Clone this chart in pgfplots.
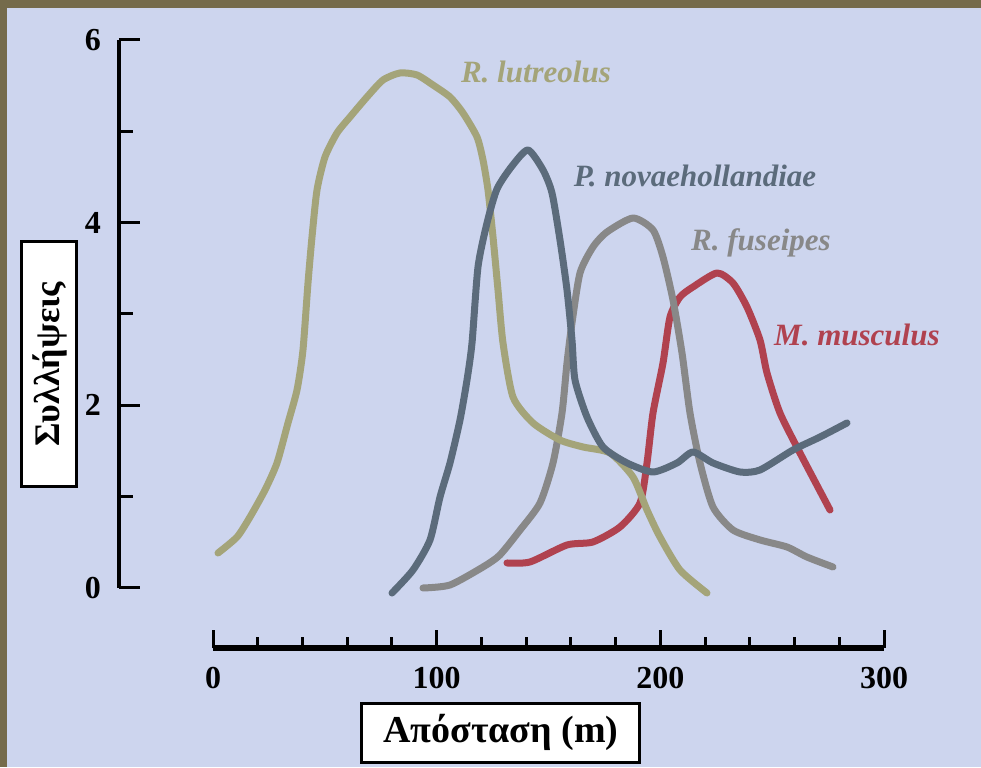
\documentclass[border=0pt]{standalone}
\usepackage{pgfplots}
\pgfplotsset{compat=1.18}
\usepackage{fontspec}
\setmainfont{Liberation Serif}
\definecolor{brownb}{HTML}{756B4B}
\definecolor{bgc}{HTML}{CDD5EE}
\definecolor{khaki}{HTML}{A4A479}
\definecolor{slate}{HTML}{5B6B7B}
\definecolor{grayc}{HTML}{888888}
\definecolor{redc}{HTML}{B0424F}
\begin{document}
\begin{tikzpicture}
\fill[brownb] (0,0) rectangle (490.5pt,383.5pt);
\fill[bgc] (3.5pt,0) rectangle (490.5pt,379.5pt);
% y axis
\begin{axis}[at={(59.5pt,89.5pt)}, anchor=south west, scale only axis,
  width=10pt, height=274pt, xmin=0, xmax=1, ymin=0, ymax=6,
  axis y line=left, axis x line=none,
  axis line style={line width=2pt, -},
  ytick={0,2,4,6}, minor ytick={1,3,5},
  tick align=inside, major tick length=10.5pt, minor tick length=7pt,
  every tick/.style={line width=1.5pt, black},
  /pgf/number format/assume math mode=true,
  yticklabel style={anchor=center, xshift=-13pt, font=\fontsize{16}{16}\selectfont\bfseries},
  ylabel={Συλλήψεις},
  ylabel style={at={(axis description cs:0,0.408)}, anchor=center, yshift=34.75pt,
    draw=black, fill=white, line width=1.5pt, minimum width=122.5pt, minimum height=27.5pt,
    inner sep=0pt, font=\fontsize{18}{18}\selectfont\bfseries},
]
\end{axis}
% x axis
\begin{axis}[at={(106.5pt,59.5pt)}, anchor=south west, scale only axis,
  width=335.5pt, height=10pt, xmin=0, xmax=300, ymin=0, ymax=1,
  axis x line=bottom, axis y line=none,
  axis line style={line width=3pt, -},
  xtick={0,100,200,300}, minor x tick num=4,
  tick align=inside, major tick length=9pt, minor tick length=5.5pt,
  every tick/.style={line width=1.5pt, black},
  /pgf/number format/assume math mode=true,
  xticklabel style={anchor=center, yshift=-15pt, font=\fontsize{16}{16}\selectfont\bfseries},
  xlabel={Απόσταση (m)},
  xlabel style={at={(axis description cs:0.429,0)}, anchor=center, yshift=-42.25pt,
    draw=black, fill=white, line width=1.5pt, minimum width=139pt, minimum height=29.5pt,
    inner sep=0pt, font=\fontsize{19}{19}\selectfont\bfseries},
]
\end{axis}
% data
\begin{axis}[at={(106.5pt,89.5pt)}, anchor=south west, scale only axis,
  width=335.5pt, height=274pt, xmin=0, xmax=300, ymin=0, ymax=6,
  hide axis, clip=false,
  every axis plot/.append style={line width=3.5pt, line join=round, line cap=round, smooth, tension=0.4},
]
\addplot[redc] coordinates {
(131.44,0.274)(141.73,0.285)(158.27,0.471)(169.89,0.504)(181.96,0.668)(190.91,0.931)
(194.04,1.369)(196.72,1.916)(201.19,2.464)(204.32,2.967)(208.79,3.186)(214.60,3.296)
(225.33,3.449)(232.48,3.339)(238.74,3.077)(244.56,2.715)(247.69,2.354)(253.50,1.916)
(262.45,1.478)(275.86,0.854)};
\addplot[grayc] coordinates {
(93.89,0.0)(105.96,0.033)(120.71,0.230)(128.2,0.36)(137.3,0.635)(146.20,0.931)
(152.01,1.369)(156.04,1.916)(158.27,2.464)(160.50,2.902)(164.08,3.449)(169.89,3.734)
(176.15,3.898)(187.78,4.051)(196.72,3.920)(201.19,3.624)(205.66,3.153)(209.69,2.573)
(213.26,1.916)(217.74,1.369)(223.54,0.887)(232.48,0.635)(244.56,0.526)(256.63,0.449)
(265.57,0.339)(277.19,0.230)};
\addplot[khaki] coordinates {
(2.24,0.383)(10.73,0.558)(16.54,0.777)(23.25,1.073)(28.61,1.369)(33.53,1.807)
(37.56,2.168)(40.2,2.6)(42.47,3.339)(44.26,3.843)(46.50,4.358)(50.07,4.719)
(55.44,4.982)(61.25,5.157)(68.85,5.376)(76.01,5.562)(83.61,5.639)(91.21,5.617)
(98.36,5.507)(105.96,5.376)(111.78,5.201)(118.04,4.938)(120.71,4.686)(122.95,4.358)
(125.19,3.843)(127.42,3.263)(129.66,2.682)(134.13,2.091)(143.07,1.807)(155.14,1.620)
(165.42,1.544)(177.50,1.478)(187.78,1.215)(194.04,0.854)(199.85,0.558)(208.79,0.197)
(220.86,-0.055)};
\addplot[slate] coordinates {
(80.03,-0.055)(89.42,0.197)(97.02,0.526)(101.49,0.996)(105.96,1.369)(110.43,1.839)
(113.56,2.277)(115.80,2.682)(118.48,3.515)(122.50,3.996)(126.97,4.369)(133.68,4.620)
(140.83,4.796)(147.54,4.577)(151.56,4.325)(155.14,3.810)(158.27,3.263)(160.50,2.715)
(161.85,2.277)(167.21,1.872)(174.37,1.544)(185.10,1.369)(196.72,1.270)(207.45,1.369)
(214.60,1.489)(223.54,1.369)(235.62,1.270)(244.56,1.292)(259.31,1.511)(271.39,1.653)
(283.46,1.807)};
\node[text=khaki, font=\fontsize{15.5}{15.5}\selectfont\bfseries\itshape] at (axis cs:144.4,5.65) {R. lutreolus};
\node[text=slate, font=\fontsize{15.5}{15.5}\selectfont\bfseries\itshape] at (axis cs:215.5,4.51) {P. novaehollandiae};
\node[text=grayc, font=\fontsize{15.5}{15.5}\selectfont\bfseries\itshape] at (axis cs:245.0,3.78) {R. fuseipes};
\node[text=redc, font=\fontsize{15.5}{15.5}\selectfont\bfseries\itshape] at (axis cs:287.9,2.77) {M. musculus};
\end{axis}
\pgfresetboundingbox
\useasboundingbox (0,0) rectangle (490.5pt,383.5pt);
\end{tikzpicture}
\end{document}
